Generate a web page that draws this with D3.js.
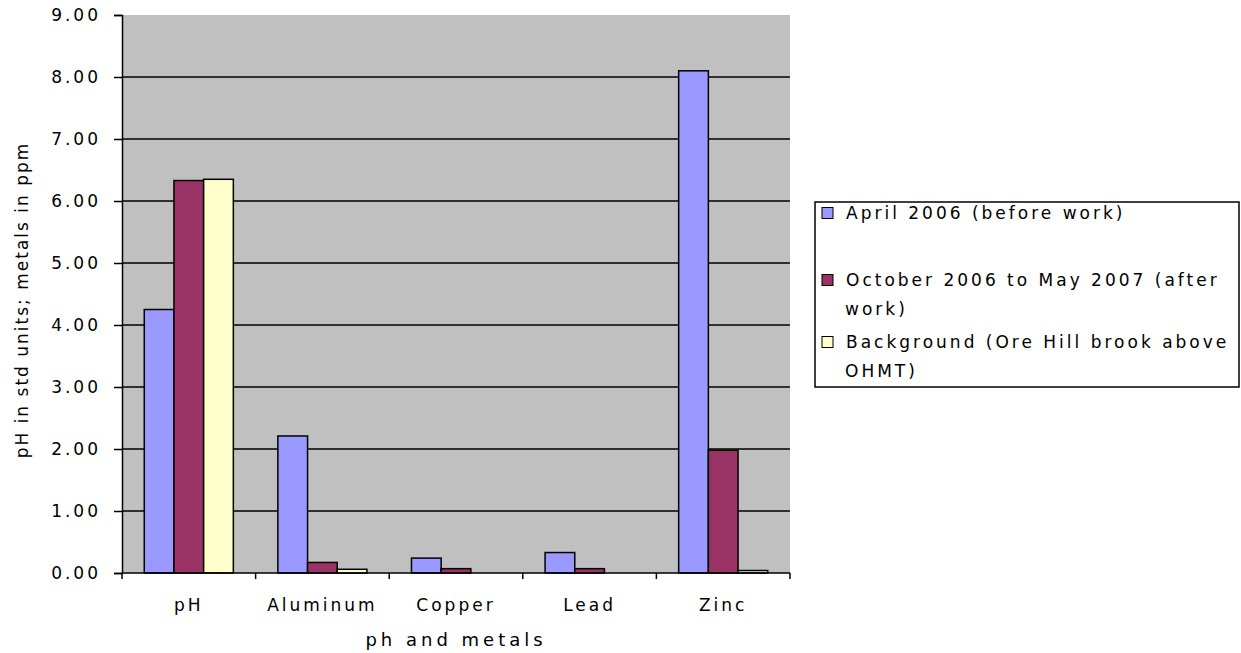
<!DOCTYPE html>
<html lang="en">
<head>
<meta charset="UTF-8">
<title>pH and metals</title>
<style>
    body { margin: 0; padding: 0; background: #ffffff; overflow: hidden; }
    svg { display: block; }
    text { font-family: "DejaVu Sans", Verdana, sans-serif; fill: #000; }
</style>
</head>
<body>
<script src="https://d3js.org/d3.v7.min.js"></script>
<script>
    const categories = ['pH', 'Aluminum', 'Copper', 'Lead', 'Zinc'];
    const seriesNames = [
        ['April 2006 (before work)'],
        ['October 2006 to May 2007 (after', 'work)'],
        ['Background (Ore Hill brook  above', 'OHMT)']
    ];
    const seriesColors = ['#9999ff', '#993366', '#ffffcc'];
    const april2006 = [4.25, 2.21, 0.24, 0.33, 8.10];
    const afterWork = [6.33, 0.17, 0.07, 0.07, 1.98];
    const background = [6.35, 0.06, 0, 0, 0.04];
    const yTicks = [0, 1, 2, 3, 4, 5, 6, 7, 8, 9];

    const series = [april2006, afterWork, background];

    const width = 1241, height = 653;
    const plot = { left: 122, right: 790, top: 15, bottom: 573 };

    const svg = d3.select('body').append('svg')
        .attr('width', width)
        .attr('height', height);

    const x0 = d3.scaleBand()
        .domain(categories)
        .range([plot.left, plot.right])
        .padding(0);

    const x1 = d3.scaleBand()
        .domain(d3.range(series.length))
        .range([0, x0.bandwidth()])
        .paddingInner(0)
        .paddingOuter(0.75);

    const y = d3.scaleLinear()
        .domain([0, 9])
        .range([plot.bottom, plot.top]);

    // plot background
    svg.append('rect')
        .attr('x', plot.left)
        .attr('y', plot.top)
        .attr('width', plot.right - plot.left)
        .attr('height', plot.bottom - plot.top)
        .attr('fill', '#c0c0c0');

    // gridlines
    svg.append('g')
        .selectAll('line')
        .data(yTicks.filter(d => d > 0 && d < 9))
        .enter()
        .append('line')
        .attr('x1', plot.left)
        .attr('x2', plot.right)
        .attr('y1', d => y(d))
        .attr('y2', d => y(d))
        .attr('stroke', '#000')
        .attr('stroke-width', 1.5);

    // bars
    const groups = svg.append('g')
        .selectAll('g')
        .data(categories)
        .enter()
        .append('g')
        .attr('transform', d => `translate(${x0(d)},0)`);

    groups.selectAll('rect')
        .data((d, i) => series.map((s, k) => ({ k: k, v: s[i] })))
        .enter()
        .filter(d => d.v > 0)
        .append('rect')
        .attr('x', d => x1(d.k))
        .attr('y', d => y(d.v))
        .attr('width', x1.bandwidth())
        .attr('height', d => y(0) - y(d.v))
        .attr('fill', d => seriesColors[d.k])
        .attr('stroke', '#000')
        .attr('stroke-width', 1.5);

    // y axis
    const yAxis = svg.append('g')
        .attr('transform', `translate(${plot.left},0)`)
        .call(d3.axisLeft(y).tickValues(yTicks).tickFormat(d3.format('.2f')).tickSize(8).tickPadding(13));
    yAxis.select('.domain').attr('stroke', '#000').attr('stroke-width', 1.5);
    yAxis.selectAll('.tick line').attr('stroke', '#000').attr('stroke-width', 1.5);
    yAxis.selectAll('text')
        .style('font-size', '17px')
        .style('letter-spacing', '3px')
        .style('font-family', '"DejaVu Sans", Verdana, sans-serif');

    // x axis
    const xAxisG = svg.append('g')
        .attr('transform', `translate(0,${plot.bottom})`);
    xAxisG.append('line')
        .attr('x1', plot.left)
        .attr('x2', plot.right)
        .attr('stroke', '#000')
        .attr('stroke-width', 1.5);
    const boundaries = categories.map(c => x0(c)).concat([plot.right]);
    xAxisG.selectAll('.xtick')
        .data(boundaries)
        .enter()
        .append('line')
        .attr('x1', d => d)
        .attr('x2', d => d)
        .attr('y1', 0)
        .attr('y2', 6)
        .attr('stroke', '#000')
        .attr('stroke-width', 1.5);
    xAxisG.selectAll('.xlabel')
        .data(categories)
        .enter()
        .append('text')
        .attr('x', d => x0(d) + x0.bandwidth() / 2)
        .attr('y', 38)
        .attr('text-anchor', 'middle')
        .style('font-size', '17px')
        .style('letter-spacing', '3px')
        .text(d => d);

    // axis titles
    svg.append('text')
        .attr('x', (plot.left + plot.right) / 2)
        .attr('y', 646)
        .attr('text-anchor', 'middle')
        .style('font-size', '18px')
        .style('letter-spacing', '4px')
        .text('ph and metals');

    svg.append('text')
        .attr('transform', `translate(28,${(plot.top + plot.bottom) / 2 + 6}) rotate(-90)`)
        .attr('text-anchor', 'middle')
        .style('font-size', '17px')
        .style('letter-spacing', '2px')
        .text('pH in std units; metals in ppm');

    // legend
    const legend = svg.append('g');
    legend.append('rect')
        .attr('x', 815)
        .attr('y', 202)
        .attr('width', 424)
        .attr('height', 185)
        .attr('fill', '#fff')
        .attr('stroke', '#000')
        .attr('stroke-width', 1.5);

    const legendY = [213, 280, 342];
    seriesNames.forEach((lines, k) => {
        legend.append('rect')
            .attr('x', 822)
            .attr('y', legendY[k] - 5.5)
            .attr('width', 11)
            .attr('height', 11)
            .attr('fill', seriesColors[k])
            .attr('stroke', '#000')
            .attr('stroke-width', 1);
        lines.forEach((line, j) => {
            legend.append('text')
                .attr('x', j === 0 ? 846 : 845)
                .attr('y', legendY[k] + j * 29)
                .attr('dy', '0.35em')
                .style('font-size', '17px')
                .style('letter-spacing', '3px')
                .text(line);
        });
    });
</script>
</body>
</html>
